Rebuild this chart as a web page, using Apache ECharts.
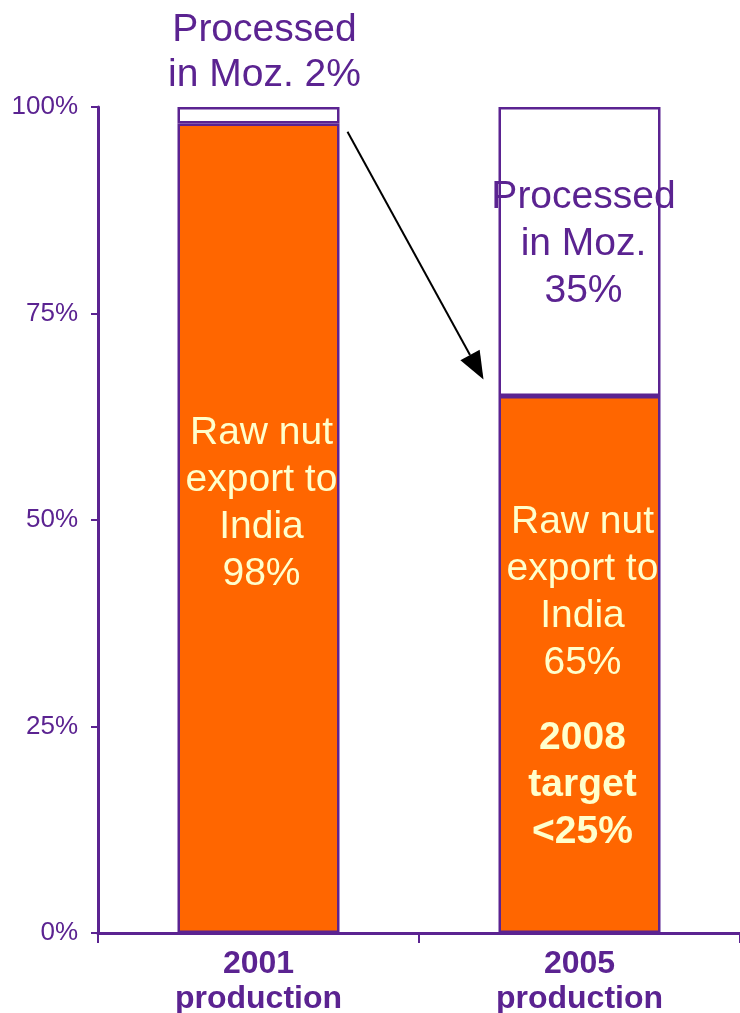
<!DOCTYPE html>
<html>
<head>
<meta charset="utf-8">
<script src="https://cdn.jsdelivr.net/npm/echarts@6/dist/echarts.min.js"></script>
<style>
html,body{margin:0;padding:0;background:#fff;}
#c{width:740px;height:1013px;}
</style>
</head>
<body>
<div id="c"></div>
<script>
var categories = ['2001\nproduction', '2005\nproduction'];
var rawExport = [98, 65];
var processed = [2, 35];
var yTicks = [0, 25, 50, 75, 100];
var rawLabels = ['Raw nut\nexport to\nIndia\n98%', 'Raw nut\nexport to\nIndia\n65%'];
var targetLabel = '2008\ntarget\n<25%';
var processedLabels = ['Processed\nin Moz. 2%', 'Processed\nin Moz.\n35%'];
var arrowFrom = 97, arrowTo = 67;

var PURPLE = '#5B2391';
var ORANGE = '#FF6600';
var CREAM = '#FFFFCC';
var FONT = '"Liberation Sans", Arial, sans-serif';

function lines(txt, style) {
  return txt.split('\n').map(function (l) { return '{' + style + '|' + l + '}'; }).join('\n');
}

var chart = echarts.init(document.getElementById('c'), null, {renderer: 'canvas'});

var option = {
  animation: false,
  backgroundColor: '#fff',
  textStyle: {fontFamily: FONT},
  grid: {left: 98, right: 0, top: 107, bottom: 80, containLabel: false, outerBoundsMode: 'none'},
  xAxis: {
    type: 'category',
    data: categories,
    axisLine: {lineStyle: {color: PURPLE, width: 3}},
    axisTick: {show: true, length: 10, lineStyle: {color: PURPLE, width: 2}, alignWithLabel: false},
    axisLabel: {
      color: PURPLE, fontFamily: FONT, fontWeight: 'bold', fontSize: 32,
      lineHeight: 35, margin: 14
    }
  },
  yAxis: {
    type: 'value',
    min: yTicks[0], max: yTicks[yTicks.length - 1], interval: 25,
    axisLine: {show: true, lineStyle: {color: PURPLE, width: 3}},
    axisTick: {show: true, length: 7, lineStyle: {color: PURPLE, width: 2}},
    splitLine: {show: false},
    axisLabel: {color: PURPLE, fontFamily: FONT, fontSize: 26, margin: 20, formatter: '{value}%'}
  },
  series: [
    {
      name: 'Raw nut export to India',
      type: 'bar',
      stack: 's',
      barWidth: 162,
      itemStyle: {color: ORANGE, borderColor: PURPLE, borderWidth: 2.5},
      data: [
        {value: rawExport[0], label: {
          show: true, position: 'inside', offset: [3, -25],
          formatter: lines(rawLabels[0], 'a'),
          rich: {a: {color: CREAM, fontSize: 39, lineHeight: 47, fontFamily: FONT}}
        }},
        {value: rawExport[1], label: {
          show: true, position: 'inside', offset: [3, 13],
          formatter: lines(rawLabels[1], 'a') + '\n{g| }\n' + lines(targetLabel, 'b'),
          rich: {
            a: {color: CREAM, fontSize: 39, lineHeight: 47, fontFamily: FONT},
            g: {fontSize: 10, lineHeight: 28},
            b: {color: CREAM, fontSize: 39, lineHeight: 47, fontWeight: 'bold', fontFamily: FONT}
          }
        }}
      ]
    },
    {
      name: 'Processed in Moz.',
      type: 'bar',
      stack: 's',
      barWidth: 162,
      itemStyle: {color: '#FFFFFF', borderColor: PURPLE, borderWidth: 2.5},
      data: [
        {value: processed[0], label: {
          show: true, position: 'top', distance: 9, offset: [6, 0],
          formatter: processedLabels[0],
          color: PURPLE, fontSize: 39, lineHeight: 45, fontFamily: FONT
        }},
        {value: processed[1], label: {
          show: true, position: 'inside', offset: [4, -7],
          formatter: processedLabels[1],
          color: PURPLE, fontSize: 39, lineHeight: 47, fontFamily: FONT
        }}
      ]
    }
  ]
};
chart.setOption(option);

// arrow annotation anchored to the axes
var c0 = chart.convertToPixel({xAxisIndex: 0}, 0);
var c1 = chart.convertToPixel({xAxisIndex: 0}, 1);
var half = 81;
var x1 = c0 + half + 8, y1 = chart.convertToPixel({yAxisIndex: 0}, arrowFrom);
var x2 = c1 - half - 15, y2 = chart.convertToPixel({yAxisIndex: 0}, arrowTo);
var ang = Math.atan2(y2 - y1, x2 - x1);
var hl = 28, hw = 11;
var bx = x2 - hl * Math.cos(ang), by = y2 - hl * Math.sin(ang);
var px = -Math.sin(ang), py = Math.cos(ang);
chart.setOption({
  graphic: [
    {type: 'line', shape: {x1: x1, y1: y1, x2: bx, y2: by}, style: {stroke: '#000', lineWidth: 2}, z: 10},
    {type: 'polygon', shape: {points: [[x2, y2], [bx + px * hw, by + py * hw], [bx - px * hw, by - py * hw]]}, style: {fill: '#000'}, z: 10}
  ]
});
</script>
</body>
</html>
